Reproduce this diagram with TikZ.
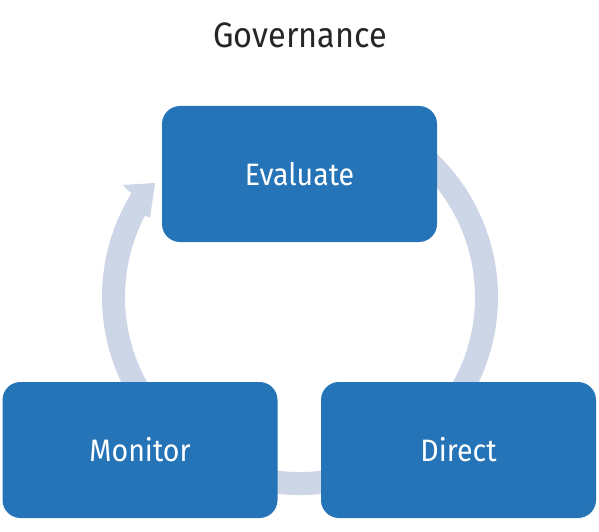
\documentclass[tikz,border=0pt]{standalone}
\usepackage{fontspec}
\setmainfont{Fira Sans}[FakeStretch=0.92]
\definecolor{boxblue}{HTML}{2574B8}
\definecolor{arcgray}{HTML}{CDD6E7}
\definecolor{titlegray}{HTML}{262626}
\begin{document}
\begin{tikzpicture}[x=1pt,y=1pt,
  stagebox/.style={rectangle,rounded corners=18pt,fill=boxblue,draw=none,
    minimum width=275pt,minimum height=136pt,inner sep=0pt,text=white,
    font=\fontsize{31}{36}\selectfont},
  cyclearrow/.style={fill=arcgray,draw=none}]
\useasboundingbox (0,0) rectangle (599,531);
\node[text=titlegray,font=\fontsize{35.3}{40}\selectfont] (title) at (300,496) {Governance};
% circular arrow
\fill[cyclearrow] ([shift={(300,234)}]60:198) arc[start angle=60,end angle=-211.6,radius=198]
  -- (122.7,346) -- (155,348) -- (150,313)
  -- ([shift={(300,234)}]-207.8:175) arc[start angle=-207.8,end angle=60,radius=175] -- cycle;
\node[stagebox] (evaluate) at (299.5,357) {Evaluate};
\node[stagebox] (monitor) at (140,81) {Monitor};
\node[stagebox] (direct) at (458.5,81) {Direct};
\end{tikzpicture}
\end{document}
